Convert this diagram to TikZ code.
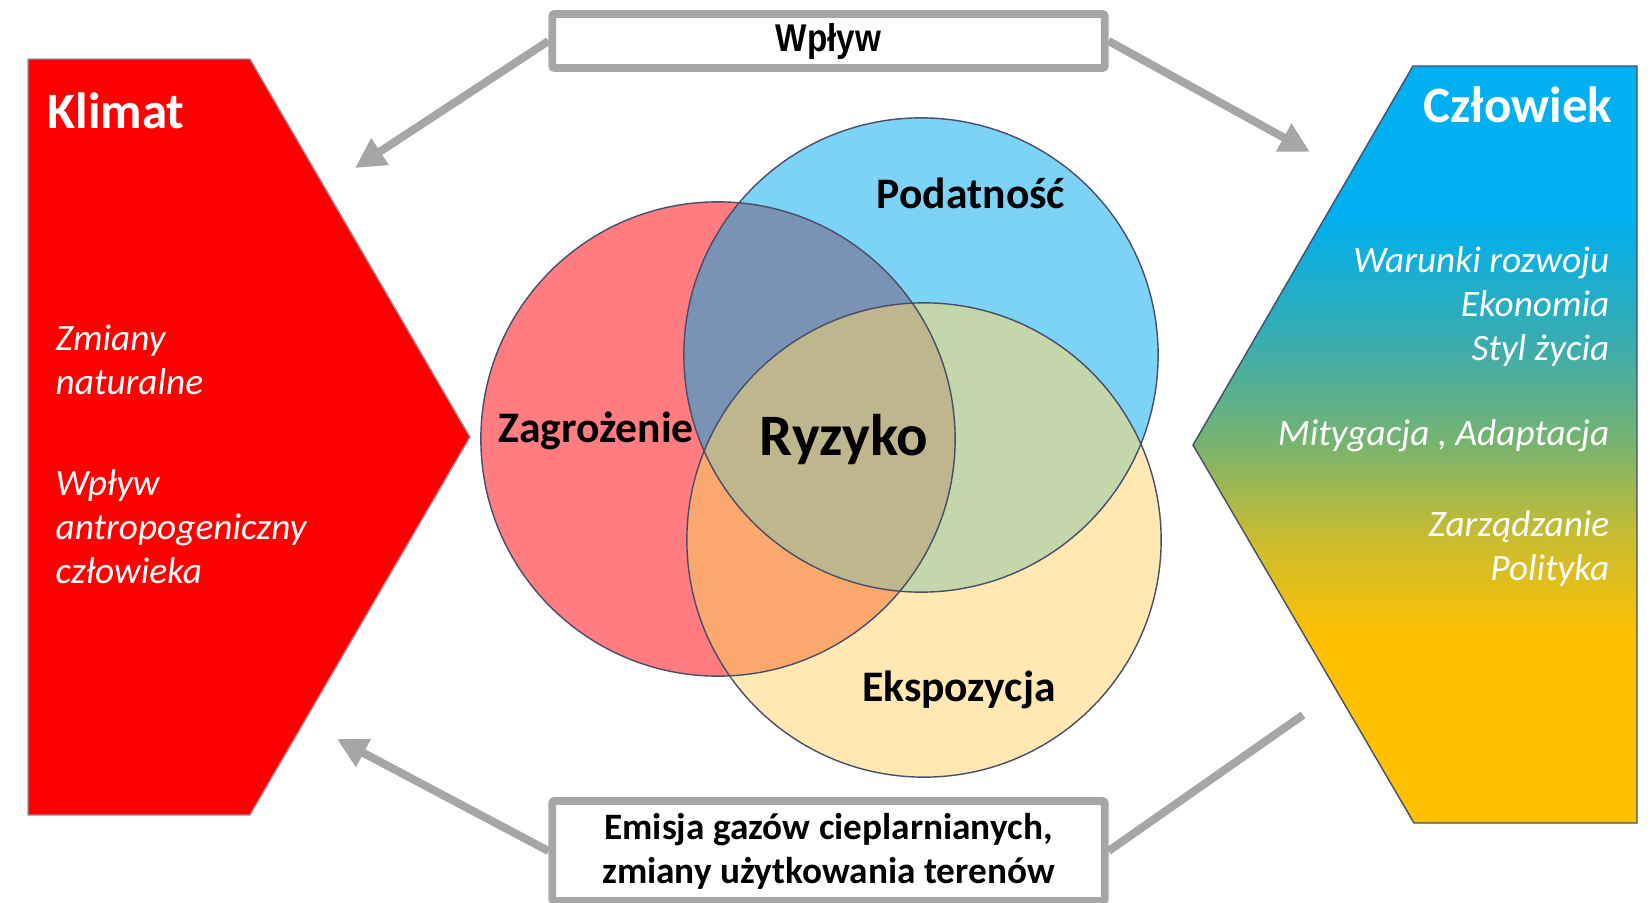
\documentclass[tikz,border=0pt]{standalone}
\usepackage{fontspec}
\setmainfont{Carlito}
\newfontfamily\arialnarrow[FakeStretch=0.86]{Liberation Sans}
\usetikzlibrary{arrows.meta}
\definecolor{klimatred}{RGB}{255,0,0}
\definecolor{arrowgray}{RGB}{166,166,166}
\definecolor{hazardred}{RGB}{255,124,128}
\definecolor{vulnblue}{RGB}{125,211,245}
\definecolor{exposyellow}{RGB}{255,232,178}
\definecolor{hvcol}{RGB}{122,147,180}
\definecolor{hecol}{RGB}{250,168,110}
\definecolor{vecol}{RGB}{195,215,170}
\definecolor{riskcol}{RGB}{190,182,140}
\definecolor{rimcol}{RGB}{70,78,105}
\definecolor{manblue}{RGB}{0,176,240}
\definecolor{manteal}{RGB}{55,172,178}
\definecolor{mangreen}{RGB}{120,180,110}
\definecolor{manolive}{RGB}{200,188,50}
\definecolor{mangold}{RGB}{255,192,0}
\pgfdeclareverticalshading{manshade}{100bp}{color(0bp)=(mangold); color(37bp)=(mangold); color(44bp)=(manolive); color(50bp)=(mangreen); color(57bp)=(manteal); color(65bp)=(manblue); color(100bp)=(manblue)}
\tikzset{
  title/.style={text=white, font=\fontsize{14.5}{17}\selectfont\bfseries, inner sep=0pt},
  sidetext/.style={text=white, font=\fontsize{10.6}{12.5}\selectfont\itshape, inner sep=0pt},
  venntext/.style={font=\fontsize{12.4}{15}\selectfont\bfseries, inner sep=0pt},
  graybox/.style={draw=arrowgray, line width=2.2pt, fill=white, rounded corners=0.6pt, inner sep=0pt},
  grayline/.style={draw=arrowgray, line width=2.3pt},
  grayarrow/.style={grayline, -{Triangle[length=0.3cm,width=0.3cm]}},
  rim/.style={draw=rimcol, line width=0.4pt}
}

\begin{document}
\begin{tikzpicture}[x=0.01cm, y=-0.01cm]
    \useasboundingbox (0,0) rectangle (1650,903);

    % Klimat side
    \filldraw[fill=klimatred, draw=rimcol!60, line width=0.4pt] (28,59) -- (250,59) -- (470,437) -- (250,815) -- (28,815) -- cycle;
    \node[title, anchor=base west] (klimat) at (47,129) {Klimat};
    \node[sidetext, anchor=west, align=left] (natural) at (55,360) {Zmiany\\naturalne};
    \node[sidetext, anchor=west, align=left] (anthro) at (55,527) {Wpływ\\antropogeniczny\\człowieka};

    % Czlowiek side
    \shade[shading=manshade] (1413,66) -- (1637,66) -- (1637,823) -- (1414,823) -- (1193,445) -- cycle;
    \draw[rim] (1413,66) -- (1637,66) -- (1637,823) -- (1414,823) -- (1193,445) -- cycle;
    \node[title, anchor=base east] (czlowiek) at (1613,122) {Człowiek};
    \node[sidetext, anchor=east, align=right] (develop) at (1610,307) {Warunki rozwoju\\Ekonomia\\Styl życia};
    \node[sidetext, anchor=east] (mitig) at (1610,436) {Mitygacja , Adaptacja};
    \node[sidetext, anchor=east, align=right] (govern) at (1610,549) {Zarządzanie\\Polityka};

    % Venn circles
    \coordinate (zc) at (718,439);
    \coordinate (pc) at (921,355);
    \coordinate (ec) at (924,540);
    \fill[hazardred] (zc) circle[radius=2.37cm];
    \fill[vulnblue] (pc) circle[radius=2.37cm];
    \fill[exposyellow] (ec) circle[radius=2.37cm];
    \begin{scope}
        \clip (pc) circle[radius=2.37cm];
        \fill[vecol] (ec) circle[radius=2.37cm];
    \end{scope}
    \begin{scope}
        \clip (zc) circle[radius=2.37cm];
        \fill[hvcol] (pc) circle[radius=2.37cm];
        \fill[hecol] (ec) circle[radius=2.37cm];
        \clip (pc) circle[radius=2.37cm];
        \fill[riskcol] (ec) circle[radius=2.37cm];
    \end{scope}
    \draw[rim] (zc) circle[radius=2.37cm];
    \draw[rim] (pc) circle[radius=2.37cm];
    \draw[rim] (ec) circle[radius=2.37cm];
    \node[venntext] (podatnosc) at (971,193) {Podatność};
    \node[venntext] (zagrozenie) at (596,431) {Zagrożenie};
    \node[venntext, font=\fontsize{16.7}{19}\selectfont\bfseries] (ryzyko) at (844,440) {Ryzyko};
    \node[venntext] (ekspozycja) at (959,690) {Ekspozycja};

    % boxes and arrows
    \node[graybox, minimum width=5.52cm, minimum height=0.54cm, font=\fontsize{11}{13}\selectfont\arialnarrow\bfseries] (wplyw) at (828.5,41) {Wpływ};
    \node[graybox, minimum width=5.52cm, minimum height=1.0cm, align=center, font=\fontsize{10.6}{12.5}\selectfont\bfseries] (emisja) at (828.5,851) {Emisja gazów cieplarnianych,\\zmiany użytkowania terenów};
    \coordinate (klimatin) at (355,168);
    \coordinate (czlowiekin) at (1310,152);
    \coordinate (klimatback) at (337,739);
    \coordinate (czlowiekout) at (1303,715);
    \draw[grayarrow] (wplyw.west) -- (klimatin);
    \draw[grayarrow] (wplyw.east) -- (czlowiekin);
    \draw[grayarrow] (emisja.west) -- (klimatback);
    \draw[grayline] (czlowiekout) -- (emisja.east);
\end{tikzpicture}
\end{document}
